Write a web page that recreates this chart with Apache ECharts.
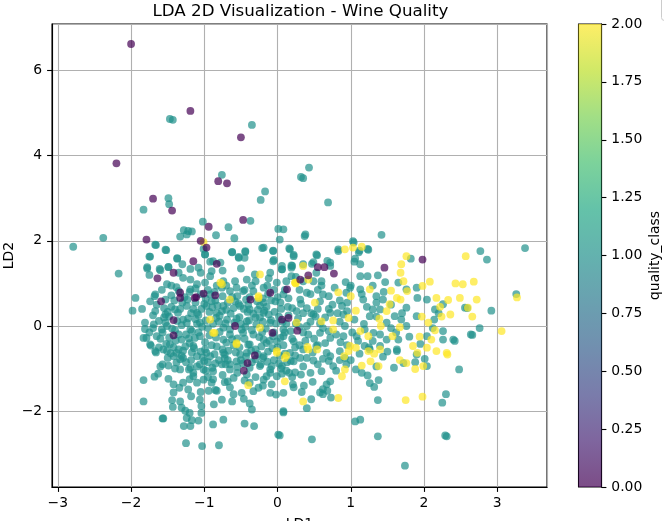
<!DOCTYPE html>
<html>
<head>
<meta charset="utf-8">
<script src="https://cdn.jsdelivr.net/npm/echarts@6/dist/echarts.min.js"></script>
<style>
html,body{margin:0;padding:0;background:#fff;}
#chart{width:664px;height:521px;}
</style>
</head>
<body>
<div id="chart"></div>
<script>
// ---- Data (LD1, LD2) ----
const class0Points = [
[-2.00,6.62],[-1.19,5.05],[-0.50,4.43],[-2.20,3.82],[-0.81,3.40],[-0.69,3.35],[-1.70,2.99],[-1.44,2.71],
[-0.47,2.49],[-1.79,2.03],[-1.05,2.00],[-0.94,2.33],[-0.97,1.84],[-1.15,1.52],[-0.83,1.46],[-1.42,1.25],
[-1.64,1.12],[-1.33,0.66],[-1.59,0.58],[-1.13,0.66],[-1.01,0.76],[-0.85,0.72],[-0.37,0.62],[-0.10,0.78],
[-1.42,0.14],[-0.58,0.00],[-0.07,-0.16],[0.06,0.15],[-0.31,-0.69],[-1.42,-0.22],[-0.46,-1.05],[0.15,0.19],
[0.27,-0.11],[0.31,1.09],[0.55,1.38],[0.64,1.38],[0.77,1.23],[0.42,1.19],[1.46,1.37],
[1.98,1.56],[-0.41,-0.87],[0.13,0.86],[-1.11,0.68],[-1.33,0.78]
];
const class2Points = [
[1.15,1.86],[1.03,1.84],[0.92,1.80],[1.76,1.64],[1.69,1.45],[1.68,1.25],[1.72,1.05],[2.57,1.64],
[2.68,1.04],[2.53,0.98],[2.43,1.00],[2.08,1.04],[1.98,0.94],[2.17,0.66],[2.22,0.45],[2.33,0.61],
[2.49,0.66],[2.60,0.43],[2.72,0.62],[2.66,0.22],[2.36,0.27],[2.24,0.22],[1.97,0.22],[1.77,0.82],
[1.55,0.83],[1.63,0.66],[1.53,0.51],[1.49,0.35],[1.39,0.17],[1.41,0.00],[1.26,0.86],[1.00,0.70],
[1.07,0.36],[0.83,0.79],[0.97,0.19],[0.76,0.13],[0.60,0.11],[0.51,0.55],[0.24,1.02],[0.42,1.09],
[0.35,1.41],[2.15,-0.10],[2.10,-0.32],[1.94,-0.25],[1.85,-0.47],[2.04,-0.51],[2.31,-0.63],[1.67,-0.03],
[1.57,-0.24],[1.24,-0.24],[1.13,-0.12],[0.99,-0.47],[0.76,-0.08],[0.41,-0.49],[1.07,-0.51],[1.40,-0.55],
[1.91,-0.63],[1.68,0.62],[2.06,0.08],[3.06,-0.12],[3.27,0.67],
[0.10,-1.30],[0.35,-1.77],[0.83,-1.69],[0.88,-1.18],[0.92,-1.02],[1.15,-0.93],[1.27,-0.83],[1.32,-0.65],
[1.38,-0.94],[1.24,-0.59],[1.67,-0.80],[1.76,-0.87],[1.88,-1.01],[1.99,-0.94],[2.17,-0.59],[2.32,-0.67],
[1.75,-1.74],[1.98,-1.66],[0.97,-0.59],[0.42,-0.55],[0.91,-0.71],[0.54,-0.55],
[-1.01,1.97],[-0.65,0.62],[-0.26,0.66],[-0.24,1.21],[-0.78,1.02],[-0.92,0.15],[-0.88,-0.16],[-0.24,-0.04],
[-0.56,-0.43],[-0.01,-0.59],[0.12,-0.69],[-0.40,-1.39],[0.25,1.00],[0.26,0.08],[-0.01,-0.63],
[-0.86,-0.16],[-0.56,-0.40],[0.10,-0.75],[-0.76,0.98],[0.24,1.02],[-0.26,0.70]
];
const class1Points = [
// upper outliers
[-1.47,4.86],[-1.43,4.84],[-0.35,4.72],[-0.76,3.55],[-0.17,3.16],[-0.23,2.96],[-1.49,3.00],[-1.48,2.86],
[-1.83,2.73],[-0.37,2.47],[-1.02,2.45],[-0.67,2.32],[-0.84,2.13],[-1.28,2.25],[-1.22,2.23],[-1.17,2.22],
[-1.24,2.15],[-1.33,2.10],[-0.59,2.06],[0.01,2.28],[0.08,2.27],[-2.38,2.07],[-2.79,1.86],[-1.67,1.91],
[-1.53,1.79],[-1.75,1.63],[-1.37,1.59],[-1.01,1.81],[-0.99,1.68],[-0.62,1.74],[-0.44,1.74],[-0.53,1.62],
[-0.21,1.83],[-0.06,1.77],[0.16,1.82],[-0.05,1.55],[0.20,1.41],[0.22,1.67],[0.32,3.50],[0.06,1.41],
[-1.78,1.38],[-1.61,1.34],[-1.49,1.39],[-0.78,1.49],[-0.92,1.51],
[0.43,3.72],[0.35,3.47],[0.69,2.90],[0.37,2.11],[1.42,2.14],[1.04,1.96],[0.54,1.66],[0.83,1.76],
[1.11,1.73],[1.24,1.79],[1.05,1.51],[1.82,1.58],[2.77,1.76],[2.86,1.56],[3.38,1.83],[0.47,1.46],
[0.68,1.53],[0.72,1.41],[0.19,1.37],
// right side
[3.26,0.75],[2.92,0.36],[2.76,-0.05],[2.66,-0.21],[2.59,0.42],[2.42,-0.35],[2.48,-1.02],[2.30,-1.60],
[2.25,-1.80],[2.31,-2.59],[2.29,-2.57],[1.74,-3.28],[1.37,-2.59],[1.37,-1.74],[1.06,-2.24],[1.13,-2.20],
[0.47,-2.66],[0.03,-2.57],[0.08,-2.03],[0.40,-1.93],[0.46,-1.72],[0.73,-1.68],[0.62,-1.60],[0.68,-1.52],
[0.22,-1.44],[0.36,-1.40],
[0.62,-1.48],[0.58,-1.56],[0.67,-1.37],[0.48,-1.31],[0.33,-1.55],[0.21,-1.37],[0.08,-1.57],[0.06,-1.12],
[0.16,-1.10],[0.24,-1.09],[0.32,-1.14],[0.60,-1.06],[0.72,-1.30],[0.76,-0.94],[0.62,-0.77],[0.49,-0.81],
[0.40,-0.75],[0.31,-0.75],[0.22,-0.83],[0.13,-0.85],[0.24,-0.69],[0.72,-0.71],[0.92,-0.75],[0.94,-0.90],
[1.07,-1.02],[1.12,-0.65],[1.44,-0.72],[1.23,-1.16],[1.26,-1.34],[1.32,-1.43],[1.38,-1.27],[1.59,-0.98],
[1.72,-0.87],[1.88,-0.85],[1.90,-0.67],[2.01,-0.77],[2.04,-0.94],[1.63,-0.59],[1.26,-0.55],
// lower left
[-1.83,-1.27],[-1.83,-1.77],[-1.68,-1.19],[-1.63,-1.12],[-1.57,-0.90],[-1.49,-0.93],[-1.67,-0.59],
[-1.44,-1.74],[-1.33,-1.77],[-1.43,-1.90],[-1.31,-1.92],[-1.57,-2.17],[-1.26,-1.99],[-1.20,-2.04],
[-1.24,-2.16],[-1.17,-2.21],[-1.28,-2.35],[-1.19,-2.35],[-1.08,-2.22],[-1.04,-1.88],[-1.04,-2.04],
[-0.88,-2.31],[-0.74,-2.20],[-1.25,-2.75],[-1.03,-2.82],[-0.80,-2.80],[-0.45,-2.29],[-0.32,-2.35],
[0.01,-2.55],[0.08,-2.00],[-0.35,-1.96],[-0.38,-1.82],[-0.62,-1.77],[-0.76,-1.73],[-0.87,-1.84],
[-0.83,-1.52],[-0.94,-1.52],[-1.18,-1.65],[-1.34,-1.45],[-1.22,-1.49],[-1.42,-1.56],[-1.42,-1.37],
[-1.06,-1.73],[-0.65,-1.44],[-0.49,-1.57],[-0.46,-1.71],[-0.33,-1.53],[-0.26,-1.45],[-0.10,-1.57],
[-0.02,-1.61],[-0.08,-1.37],[-0.19,-1.26],[-0.38,-1.33],[-0.42,-1.14],[-0.60,-1.22],[-0.72,-1.32],
[-0.90,-1.33],[-1.10,-1.33],[-1.29,-1.33],[-1.49,-1.24],[-1.15,-1.18],[-1.01,-1.26],[-1.33,-1.02],
[-1.19,-0.98],[-1.01,-1.02],[-0.88,-1.06],[-0.76,-0.90],[-0.65,-1.02],[-0.56,-0.83],[-0.24,-0.94],
[-0.10,-1.02],[0.06,-0.94],[-0.01,-1.18],[-0.19,-0.71],[-0.72,-0.67],[-0.92,-0.71],[-1.10,-0.71],
[-1.29,-0.75],[-1.42,-0.71],[-1.51,-0.59],[-0.42,-0.63],
// upper-left core
[-2.17,1.23],[-1.94,0.66],[-1.98,0.36],[-1.74,1.63],[-1.78,1.35],[-1.66,1.90],[-1.52,1.78],[-1.37,1.58],
[-1.49,1.38],[-1.60,1.31],[-1.35,1.25],[-1.19,1.34],[-1.08,1.37],[-0.90,1.29],[-1.29,1.13],[-1.19,1.09],
[-1.51,0.98],[-1.38,0.91],[-1.67,0.74],[-1.74,0.58],[-1.53,0.62],[-1.19,0.86],[-0.99,1.02],[-0.92,1.17],
[-0.74,1.05],[-0.88,1.52],[-0.99,1.68],[-0.62,1.73],[-0.53,1.60],[-0.44,1.76],[-0.45,1.60],[-0.19,1.84],
[-0.06,1.76],[-0.06,1.52],[0.06,1.33],[-0.10,1.25],[-0.31,1.21],[-0.42,1.09],[-0.56,0.90],[-0.47,0.82],
[-0.65,0.82],[-0.76,0.90],[-0.92,0.74],[-0.19,0.90],[-0.01,1.02],[0.08,0.74],[-0.03,0.58],[-0.19,0.55],
[-0.19,0.31],[-0.38,0.39],[-0.51,0.47],[-0.74,0.47],[-0.83,0.31],[-0.97,0.47],[-1.10,0.31],[-1.24,0.47],
[-1.40,0.39],[-1.53,0.27],[-1.67,0.35],[-1.81,0.08],[-1.69,0.04],[-1.58,-0.08],[-1.65,-0.24],[-1.83,-0.28],
[-1.74,-0.43],[-1.47,-0.43],[-1.31,-0.32],[-1.19,-0.08],[-1.06,-0.24],[-1.15,-0.47],[-0.74,-0.32],
[-0.65,-0.08],[-0.47,-0.16],[-0.38,-0.43],[-0.19,-0.32],[-0.01,-0.36],[0.08,-0.08],[-0.10,0.08],
[-0.42,0.11],[-0.69,0.15],[-1.06,0.08],[-1.29,0.15],[-1.51,0.00],[-0.97,-0.63],[-0.74,-0.63],
[-0.51,-0.67],[-1.38,-0.63],[-1.56,-0.55],
[-1.81,-0.07],[-1.79,-0.28],[-1.73,-0.46],[-1.66,-0.62],[-1.56,-2.17],
// middle right core
[0.38,2.15],[1.03,1.99],[0.03,2.03],[0.17,1.80],[0.22,1.64],[0.53,1.68],[0.83,1.80],[1.12,1.77],
[1.23,1.81],[1.13,1.45],[1.06,1.58],[0.72,1.49],[0.49,1.50],[0.35,1.45],[0.19,1.42],[0.06,1.33],
[0.19,1.17],[0.53,1.25],[0.60,1.05],[0.49,1.05],[0.93,1.03],[0.99,0.90],[1.13,1.17],[1.23,1.17],
[1.37,1.19],[1.47,1.03],[1.65,1.02],[1.76,0.86],[1.90,0.90],[1.91,0.66],[2.04,0.62],[2.15,0.39],
[2.14,0.15],[2.26,-0.12],[2.40,-0.32],[2.64,-0.20],[2.56,0.43],[2.26,0.51],[1.76,0.43],[1.69,0.15],
[1.60,0.23],[1.49,0.08],[1.35,0.70],[1.35,0.55],[1.40,0.39],[1.30,0.39],[1.26,0.23],[1.35,0.22],
[1.44,0.62],[1.17,0.62],[1.13,0.86],[0.94,0.78],[0.88,0.47],[0.90,0.27],[0.72,0.31],[0.62,0.74],
[0.58,0.58],[0.40,0.78],[0.31,0.62],[0.26,0.35],[0.49,0.27],[0.40,0.00],[0.58,-0.16],[0.72,-0.28],
[0.90,-0.24],[1.08,-0.24],[0.92,0.00],[1.19,-0.08],[1.31,-0.16],[1.49,-0.32],[1.65,-0.32],[1.63,-0.55],
[1.40,-0.47],[1.19,-0.47],[0.22,-0.36],[0.08,-0.24],[0.17,-0.63],[0.35,-0.55],[0.53,-0.47],[0.67,-0.63],
[0.85,-0.59],[2.04,-0.24],[2.26,-0.32],[1.76,0.00],[1.90,0.23],
// dense body
[-1.45,0.45],[-1.30,0.55],[-1.15,0.40],[-1.00,0.52],[-0.85,0.60],[-0.70,0.38],[-0.55,0.70],[-0.40,0.50],
[-0.30,0.20],[-0.15,0.45],[-1.40,-0.10],[-1.25,-0.20],[-1.10,0.05],[-0.95,-0.05],[-0.80,0.10],[-0.65,-0.20],
[-0.50,0.05],[-0.35,-0.10],[-0.20,0.10],[-0.05,-0.15],[-1.35,-0.55],[-1.20,-0.40],[-1.05,-0.60],[-0.90,-0.45],
[-0.75,-0.55],[-0.60,-0.45],[-0.45,-0.30],[-0.30,-0.55],[-0.15,-0.40],[0.00,-0.50],[-1.25,-0.85],[-1.10,-0.95],
[-0.95,-0.85],[-0.80,-0.80],[-0.65,-0.90],[-0.50,-0.80],[-0.35,-0.85],[-0.20,-0.75],[-0.05,-0.80],[0.10,-0.65],
[-1.55,0.20],[-1.60,-0.30],[-1.50,-0.75],[-1.65,0.50],[-1.20,0.80],[-0.95,0.85],[-0.70,0.95],[-0.45,0.85],
[-0.20,0.65],[0.05,0.40],[0.15,0.25],[0.25,0.05],[0.35,0.30],[0.45,0.10],[0.55,0.40],[0.65,0.20],
[0.75,0.50],[0.85,0.10],[0.95,0.35],[1.05,0.15],[0.20,-0.30],[0.35,-0.15],[0.50,-0.30],[0.65,-0.40],
[0.80,-0.20],[0.95,-0.45],[1.10,-0.35],[1.25,-0.50],[1.40,-0.20],[1.55,-0.05],[0.15,0.65],[0.30,0.85],
[0.45,0.75],[0.60,0.95],[0.70,0.70],[0.85,0.60],[1.00,0.95],[1.15,0.75],[1.30,0.95],[1.45,0.80],
[0.05,-1.00],[0.20,-1.20],[0.45,-1.10],[0.55,-0.90],[0.80,-1.05],[1.00,-0.80],[1.15,-1.10],[1.35,-0.95],
[-0.10,-1.10],[-0.30,-1.20],[-0.55,-1.10],[-0.75,-1.15],[-0.95,-1.20],[-1.15,-1.10],[-1.40,-1.00],[-1.60,-0.95],
[-0.85,-1.50],[-0.60,-1.60],[-1.05,-1.55],[-0.20,-1.40],[-1.70,-0.05],[-1.45,0.95],[-1.75,1.20],[-1.30,1.45],
[-1.05,1.25],[-0.75,1.30],[-0.50,1.35],[-0.30,1.05],[-0.05,0.85],[0.25,1.15],
// dense body, second pass
[-1.62,0.12],[-1.48,0.22],[-1.36,0.31],[-1.22,0.18],[-1.08,0.26],[-0.93,0.33],[-0.79,0.24],[-0.64,0.29],
[-0.52,0.21],[-0.41,0.33],[-0.27,0.38],[-0.12,0.27],[0.02,0.22],[-1.57,-0.15],[-1.44,-0.06],[-1.31,0.02],
[-1.17,-0.12],[-1.03,-0.02],[-0.88,0.05],[-0.74,-0.04],[-0.59,0.08],[-0.44,-0.02],[-0.29,0.04],[-0.16,-0.06],
[-0.02,0.06],[-1.52,-0.42],[-1.39,-0.34],[-1.26,-0.48],[-1.13,-0.28],[-0.99,-0.38],[-0.84,-0.27],[-0.70,-0.39],
[-0.55,-0.29],[-0.40,-0.44],[-0.25,-0.26],[-0.11,-0.35],[0.04,-0.28],[-1.46,-0.64],[-1.31,-0.70],[-1.17,-0.62],
[-1.02,-0.74],[-0.86,-0.66],[-0.72,-0.76],[-0.57,-0.62],[-0.43,-0.72],[-0.27,-0.66],[-0.13,-0.60],[0.03,-0.70],
[-1.38,-0.86],[-1.21,-1.02],[-1.06,-0.90],[-0.89,-0.98],[-0.71,-0.90],[-0.55,-0.96],[-0.38,-0.98],[-0.23,-0.90],
[-0.08,-0.94],[-1.55,0.42],[-1.41,0.60],[-1.27,0.68],[-1.12,0.55],[-0.98,0.64],[-0.82,0.48],[-0.68,0.55],
[-0.53,0.52],[-0.38,0.68],[-0.24,0.48],[-0.09,0.60],[0.04,0.55],[-1.35,0.82],[-1.10,0.98],[-0.86,0.80],
[-0.62,0.68],[-0.33,0.82],[-0.14,0.95],[0.10,0.85],[0.12,0.05],[0.18,-0.12],[0.30,-0.02],[0.42,-0.20],
[0.28,0.18],[0.40,0.42],[0.52,0.22],[0.62,-0.05],[0.14,0.45],[0.48,-0.62],[0.30,-0.45],[0.18,-0.82],
[-1.70,0.25],[-1.75,-0.15],[-1.62,-0.50],[-1.68,0.70],[-1.58,0.85],[-1.85,0.40],
// dense body, third pass
[-1.50,0.33],[-1.33,0.40],[-1.18,0.30],[-1.04,0.40],[-0.89,0.44],[-0.76,0.35],[-0.60,0.42],[-0.46,0.40],
[-0.33,0.29],[-0.18,0.36],[-0.04,0.33],[-1.53,0.08],[-1.37,0.12],[-1.24,0.07],[-1.12,0.16],[-0.98,0.13],
[-0.84,0.19],[-0.71,0.06],[-0.56,0.17],[-0.39,0.13],[-0.24,0.20],[-0.09,0.14],[0.07,0.10],[-1.48,-0.27],
[-1.35,-0.20],[-1.21,-0.29],[-1.08,-0.15],[-0.93,-0.22],[-0.79,-0.14],[-0.62,-0.31],[-0.49,-0.08],[-0.33,-0.20],
[-0.21,-0.15],[-0.06,-0.24],[0.10,-0.15],[-1.42,-0.50],[-1.29,-0.58],[-1.14,-0.52],[-0.99,-0.55],[-0.83,-0.48],
[-0.67,-0.58],[-0.52,-0.50],[-0.36,-0.58],[-0.22,-0.48],[-0.07,-0.52],[0.08,-0.45],[-1.33,-0.78],[-1.18,-0.80],
[-1.00,-0.82],[-0.85,-0.88],[-0.68,-0.80],[-0.47,-0.88],[-0.30,-0.78],[-0.14,-0.84],[0.02,-0.88],[-1.45,0.72],
[-1.23,0.62],[-1.05,0.75],[-0.90,0.58],[-0.75,0.70],[-0.58,0.58],[-0.43,0.62],[-0.28,0.58],[-0.13,0.75],
[0.00,0.68],[0.20,0.42],[0.32,0.52],[0.46,0.30],[0.58,0.06],[0.70,0.40],[0.82,0.30],[0.70,-0.12],
[0.86,-0.38],[1.02,-0.15],[1.18,0.05],[1.30,-0.35],[0.24,-0.50],[0.38,-0.35],[0.55,-0.45],[0.70,-0.82],
[0.85,-0.80],[0.35,-0.95],[0.12,-1.05],[-0.15,-1.18],[-0.45,-1.28],[-0.68,-1.30],[-1.20,-1.25],[-0.88,-1.25],
[-0.98,-1.05],[-1.12,0.88],[-0.83,0.95],[-0.58,1.05],[-0.35,0.95],[-0.12,1.12],[0.12,1.05],[0.35,1.05],
[0.55,0.85],[0.78,0.90],[0.95,0.55],[1.22,0.45],[1.55,0.50],[1.70,0.30],[1.62,-0.15],[1.80,-0.25],
[1.50,-0.60],[1.95,-0.42],[2.12,-0.05],[2.20,0.30]
];
const xTickValues = [-3, -2, -1, 0, 1, 2, 3];
const yTickValues = [-2, 0, 2, 4, 6];
const classColors = ['#440154', '#21918c', '#fde725'];
const viridisStops = ['#440154','#482475','#414487','#355f8d','#2a788e','#21918c','#22a884','#44bf70','#7ad151','#bddf26','#fde725'];

const FONT = 'DejaVu Sans';
const tickLabel = ticks => v => {
  const r = Math.round(v);
  return (Math.abs(v - r) < 1e-6 && ticks.indexOf(r) >= 0) ? String(r).replace('-', '\u2212') : '';
};

const chart = echarts.init(document.getElementById('chart'), null, {renderer: 'canvas'});

function scatter(name, pts, color) {
  return {
    name: name, type: 'scatter', xAxisIndex: 0, yAxisIndex: 0,
    data: pts, symbol: 'circle', symbolSize: 7.8,
    itemStyle: {color: color, opacity: 0.7, borderWidth: 0},
    emphasis: {disabled: true}, animation: false
  };
}

const option = {
  animation: false,
  backgroundColor: '#ffffff',
  textStyle: {fontFamily: FONT},
  grid: [
    {left: 52, top: 24, width: 495, height: 463, show: true, borderColor: '#000', borderWidth: 1.1, backgroundColor: 'transparent', containLabel: false, outerBoundsMode: 'none'},
    {left: 578.5, top: 24, width: 23, height: 463, show: true, borderColor: '#000', borderWidth: 1.1, backgroundColor: 'transparent', containLabel: false, outerBoundsMode: 'none'}
  ],
  xAxis: [
    {
      gridIndex: 0, type: 'value', min: -3.08, max: 3.68, splitNumber: 5,
      name: 'LD1', nameLocation: 'middle', nameGap: 30, nameMoveOverlap: false,
      nameTextStyle: {fontFamily: FONT, fontSize: 13.9, color: '#000'},
      axisLine: {show: true, onZero: false, lineStyle: {color: '#000', width: 1.1}},
      axisTick: {show: true, length: 4.9, lineStyle: {color: '#000', width: 1.1}},
      axisLabel: {show: true, margin: 9.8, fontFamily: FONT, fontSize: 13.9, color: '#000',
                  formatter: tickLabel(xTickValues), showMinLabel: false, showMaxLabel: false, hideOverlap: false},
      splitLine: {show: true, lineStyle: {color: '#b0b0b0', width: 1.1}}
    },
    {
      gridIndex: 1, type: 'category', data: ['c'], show: false,
      axisLine: {show: false}, axisTick: {show: false}, axisLabel: {show: false}, splitLine: {show: false}
    }
  ],
  yAxis: [
    {
      gridIndex: 0, type: 'value', min: -3.78, max: 7.09, splitNumber: 5,
      name: 'LD2', nameLocation: 'middle', nameGap: 36, nameRotate: 90, nameMoveOverlap: false,
      nameTextStyle: {fontFamily: FONT, fontSize: 13.9, color: '#000'},
      axisLine: {show: true, onZero: false, lineStyle: {color: '#000', width: 1.1}},
      axisTick: {show: true, length: 4.9, lineStyle: {color: '#000', width: 1.1}},
      axisLabel: {show: true, margin: 9.8, fontFamily: FONT, fontSize: 13.9, color: '#000',
                  formatter: tickLabel(yTickValues), showMinLabel: false, showMaxLabel: false, hideOverlap: false},
      splitLine: {show: true, lineStyle: {color: '#b0b0b0', width: 1.1}}
    },
    {
      gridIndex: 1, type: 'value', min: 0, max: 2, interval: 0.25, position: 'right',
      name: 'quality_class', nameLocation: 'middle', nameGap: 47, nameRotate: 90,
      nameTextStyle: {fontFamily: FONT, fontSize: 13.9, color: '#000'},
      axisLine: {show: true, lineStyle: {color: '#000', width: 1.1}},
      axisTick: {show: true, length: 4.9, lineStyle: {color: '#000', width: 1.1}},
      axisLabel: {show: true, margin: 9.8, fontFamily: FONT, fontSize: 13.9, color: '#000',
                  formatter: v => v.toFixed(2)},
      splitLine: {show: false}
    }
  ],
  series: [
    scatter('class1', class1Points, classColors[1]),
    scatter('class2', class2Points, classColors[2]),
    scatter('class0', class0Points, classColors[0]),
    {
      type: 'bar', xAxisIndex: 1, yAxisIndex: 1, data: [2], barWidth: '100%',
      itemStyle: {
        opacity: 0.7,
        color: new echarts.graphic.LinearGradient(0, 1, 0, 0,
          viridisStops.map((c, i) => ({offset: i / (viridisStops.length - 1), color: c})))
      },
      emphasis: {disabled: true}, silent: true, animation: false
    }
  ],
  graphic: [
    {type: 'text', left: 299.5 - 147, top: 3, style: {text: 'LDA 2D Visualization - Wine Quality', font: '16.7px "DejaVu Sans"', fill: '#000'}},
    {type: 'rect', shape: {x: 661.5, y: -5, width: 20, height: 25.5, r: 3}, style: {fill: '#fff', stroke: '#cccccc', lineWidth: 1}}
  ]
};
chart.setOption(option);
</script>
</body>
</html>
